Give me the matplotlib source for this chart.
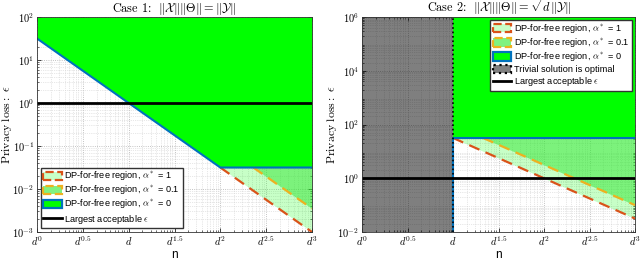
import numpy as np
import matplotlib
matplotlib.use('Agg')
import matplotlib.pyplot as plt
from matplotlib.patches import Patch
from matplotlib.lines import Line2D

plt.rcParams['mathtext.fontset'] = 'cm'
plt.rcParams['font.family'] = ['Liberation Sans', 'DejaVu Sans']

d = 100.0

# n axis, in powers of d
xtick_exp = [0, 0.5, 1, 1.5, 2, 2.5, 3]
xtick_labels = [r'$d^{0}$', r'$d^{0.5}$', r'$d$', r'$d^{1.5}$',
                r'$d^{2}$', r'$d^{2.5}$', r'$d^{3}$']

# Case 1 boundaries (exponent of d, epsilon)
c1_a0_exp = [0, 2, 3]
c1_a0_eps = [31.6, 0.0316, 0.0316]
c1_a1_exp = [2, 3]
c1_a1_eps = [0.0316, 0.001]
c1_a01_exp = [2.36, 3]
c1_a01_eps = [0.0316, 0.0035]
c1_yticks = [-3, -2, -1, 0, 1, 2]

# Case 2 boundaries
c2_trivial_exp = [0, 1]
c2_a0_exp = [1, 1, 3]
c2_a0_eps = [0.01, 31.6, 31.6]
c2_a1_exp = [1, 3]
c2_a1_eps = [31.6, 0.0316]
c2_a01_exp = [1.33, 3]
c2_a01_eps = [31.6, 0.1]
c2_yticks = [-2, 0, 2, 4, 6]

eps_max = 1.0  # largest acceptable epsilon

GREEN = '#00ff00'
BLUE = '#0072bd'
RED = '#d95319'
ORANGE = '#edb120'
LIGHT = (0.78, 1.0, 0.78)
MED = (0.5, 0.95, 0.5)


def setup(ax, ylo, yhi, yticks, title):
    ax.set_xscale('log')
    ax.set_yscale('log')
    ax.set_xlim(1, d**3)
    ax.set_ylim(10.0**ylo, 10.0**yhi)
    ax.set_xticks([d**e for e in xtick_exp], xtick_labels)
    ax.set_yticks([10.0**k for k in yticks], [r'$10^{%d}$' % k for k in yticks])
    ax.tick_params(which='both', direction='in', top=True, right=True, labelsize=7.5)
    ax.tick_params(axis='y', pad=2)
    ax.tick_params(axis='x', pad=2)
    ax.tick_params(which='major', length=3, width=0.5)
    ax.tick_params(which='minor', length=1.5, width=0.4)
    ax.grid(True, which='major', linestyle=':', color='#b0b0b0', linewidth=0.6)
    ax.grid(True, which='minor', linestyle=':', color='#d0d0d0', linewidth=0.5)
    ax.set_axisbelow(True)
    for s in ax.spines.values():
        s.set_linewidth(0.6)
        s.set_color('#333333')
    ax.set_title(title, fontsize=8.8, pad=0.5, fontfamily='cmr10')
    ax.set_xlabel('n', fontsize=8.5)
    ax.xaxis.set_label_coords(0.5, -0.08)
    ax.set_ylabel(r'$\mathrm{Privacy\ loss:}\ \epsilon$', fontsize=8.5)
    ax.yaxis.set_label_coords(-0.085, 0.5)


def nvals(exps):
    return [d**e for e in exps]


fig = plt.figure(figsize=(6.4, 2.6), dpi=100)
ax1 = fig.add_axes([37/640, 28/260, 275/640, 215/260])
ax2 = fig.add_axes([362/640, 28/260, 273/640, 215/260])

# ---- Case 1
setup(ax1, -3, 2, c1_yticks, r'Case 1:  $\|\mathcal{X}\|\|\Theta\| = \|\mathcal{Y}\|$')
top1 = 100.0
ax1.fill_between(nvals(c1_a1_exp), c1_a1_eps, top1, color=GREEN, alpha=0.22, lw=0)
ax1.fill_between(nvals(c1_a01_exp), c1_a01_eps, top1, color=(0.2, 0.9, 0.2), alpha=0.5, lw=0)
ax1.fill_between(nvals(c1_a0_exp), c1_a0_eps, top1, color=GREEN, lw=0)
ax1.plot(nvals(c1_a1_exp), c1_a1_eps, color=RED, ls=(0, (5, 3)), lw=1.6)
ax1.plot(nvals(c1_a01_exp), c1_a01_eps, color=ORANGE, ls=(0, (5, 3)), lw=1.6)
ax1.plot(nvals(c1_a0_exp), c1_a0_eps, color=BLUE, lw=1.5)
ax1.axhline(eps_max, color='black', lw=2)

h1 = [Patch(facecolor=LIGHT, edgecolor=RED, linestyle='--', linewidth=1.6),
      Patch(facecolor=MED, edgecolor=ORANGE, linestyle='--', linewidth=1.6),
      Patch(facecolor=GREEN, edgecolor=BLUE, linewidth=1.6),
      Line2D([], [], color='black', lw=2)]
lab1 = [r'DP-for-free region, $\alpha^*$ = 1',
        r'DP-for-free region, $\alpha^*$ = 0.1',
        r'DP-for-free region, $\alpha^*$ = 0',
        r'Largest acceptable $\epsilon$']
ax1.legend(h1, lab1, loc='lower left', fontsize=6.6, fancybox=False, framealpha=1,
           edgecolor='#333333', handlelength=2.0, handleheight=1.0, handletextpad=0.3,
           labelspacing=0.12, borderpad=0.3, borderaxespad=0.4)

# ---- Case 2
setup(ax2, -2, 6, c2_yticks, r'Case 2:  $\|\mathcal{X}\|\|\Theta\| = \sqrt{d}\|\mathcal{Y}\|$')
top2 = 1e6
ax2.fill_between(nvals(c2_trivial_exp), 1e-2, top2, color='black', alpha=0.5, lw=0)
ax2.fill_between(nvals(c2_a1_exp), c2_a1_eps, top2, color=GREEN, alpha=0.22, lw=0)
ax2.fill_between(nvals(c2_a01_exp), c2_a01_eps, top2, color=(0.2, 0.9, 0.2), alpha=0.5, lw=0)
ax2.fill_between(nvals(c2_a0_exp[1:]), c2_a0_eps[1:], top2, color=GREEN, lw=0)
ax2.plot(nvals(c2_a1_exp), c2_a1_eps, color=RED, ls=(0, (5, 3)), lw=1.6)
ax2.plot(nvals(c2_a01_exp), c2_a01_eps, color=ORANGE, ls=(0, (5, 3)), lw=1.6)
ax2.plot(nvals(c2_a0_exp), c2_a0_eps, color=BLUE, lw=1.5)
ax2.axvline(d**c2_trivial_exp[1], color='black', ls=':', lw=1.2)
ax2.axhline(eps_max, color='black', lw=2)

h2 = h1[:3] + [Patch(facecolor='#808080', edgecolor='black', linestyle=':', linewidth=1.6)] + h1[3:]
lab2 = lab1[:3] + ['Trivial solution is optimal'] + lab1[3:]
ax2.legend(h2, lab2, loc='upper right', fontsize=6.6, fancybox=False, framealpha=1,
           edgecolor='#333333', handlelength=2.0, handleheight=1.0, handletextpad=0.3,
           labelspacing=0.12, borderpad=0.3, borderaxespad=0.3)

plt.savefig('out.png', dpi=100)
plt.close()
